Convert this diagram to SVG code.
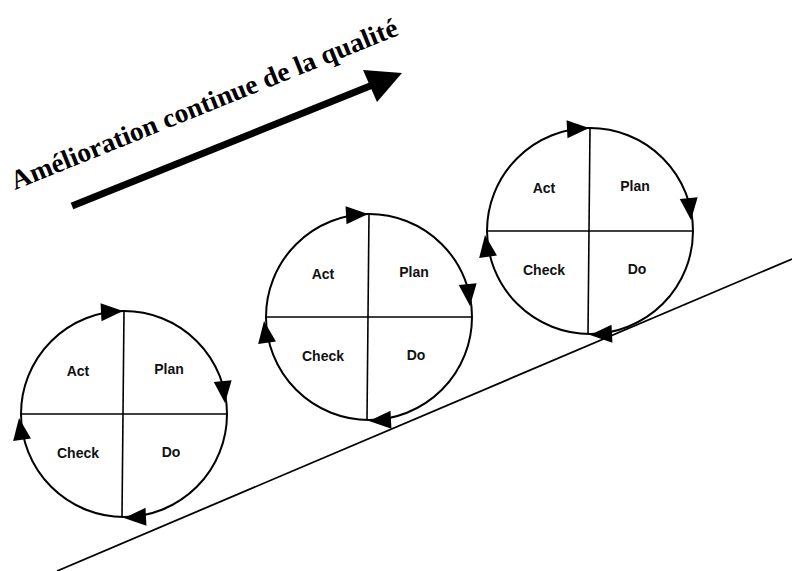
<svg xmlns="http://www.w3.org/2000/svg" width="792" height="571" viewBox="0 0 792 571">
  <style>
    .ring { fill: none; stroke: #000; stroke-width: 2; }
    .cross { stroke: #000; stroke-width: 1.6; }
    .lbl { font-family: "Liberation Sans", Arial, sans-serif; font-weight: bold; font-size: 14px; fill: #111; text-anchor: middle; }
    .title { font-family: "Liberation Serif", "Times New Roman", serif; font-weight: bold; font-size: 27px; fill: #000; }
  </style>
  <defs>
    <path id="ah" d="M0,0 L-22,-9 L-22,9 Z" fill="#000"/>
    <g id="pdca">
      <circle class="ring" cx="0" cy="0" r="103"/>
      <line class="cross" x1="0" y1="-103" x2="-2" y2="103"/>
      <line class="cross" x1="-103" y1="0" x2="103" y2="0"/>
      <use href="#ah" transform="translate(-1,-103) rotate(-3)"/>
      <use href="#ah" transform="translate(101,-11) rotate(84)"/>
      <use href="#ah" transform="translate(0,104) rotate(177)"/>
      <use href="#ah" transform="translate(-105,4) rotate(-98)"/>
      <text class="lbl" x="-46" y="-38">Act</text>
      <text class="lbl" x="45" y="-40">Plan</text>
      <text class="lbl" x="-46" y="44">Check</text>
      <text class="lbl" x="47" y="43">Do</text>
    </g>
  </defs>

  <g id="connectors">
    <line id="slope" x1="57" y1="571" x2="792" y2="259" stroke="#000" stroke-width="1.8"/>
    <g id="progress-arrow">
      <line x1="72" y1="206" x2="375" y2="84" stroke="#000" stroke-width="7"/>
      <polygon points="402,73 363,70 377,102" fill="#000"/>
    </g>
  </g>

  <g id="title">
    <text class="title" x="15" y="190" transform="rotate(-22 15 190)" textLength="415" lengthAdjust="spacingAndGlyphs">Amélioration continue de la qualité</text>
  </g>

  <g id="cycle1" transform="translate(124,414)"><use href="#pdca"/></g>
  <g id="cycle2" transform="translate(369,317)"><use href="#pdca"/></g>
  <g id="cycle3" transform="translate(590,231)"><use href="#pdca"/></g>
</svg>
